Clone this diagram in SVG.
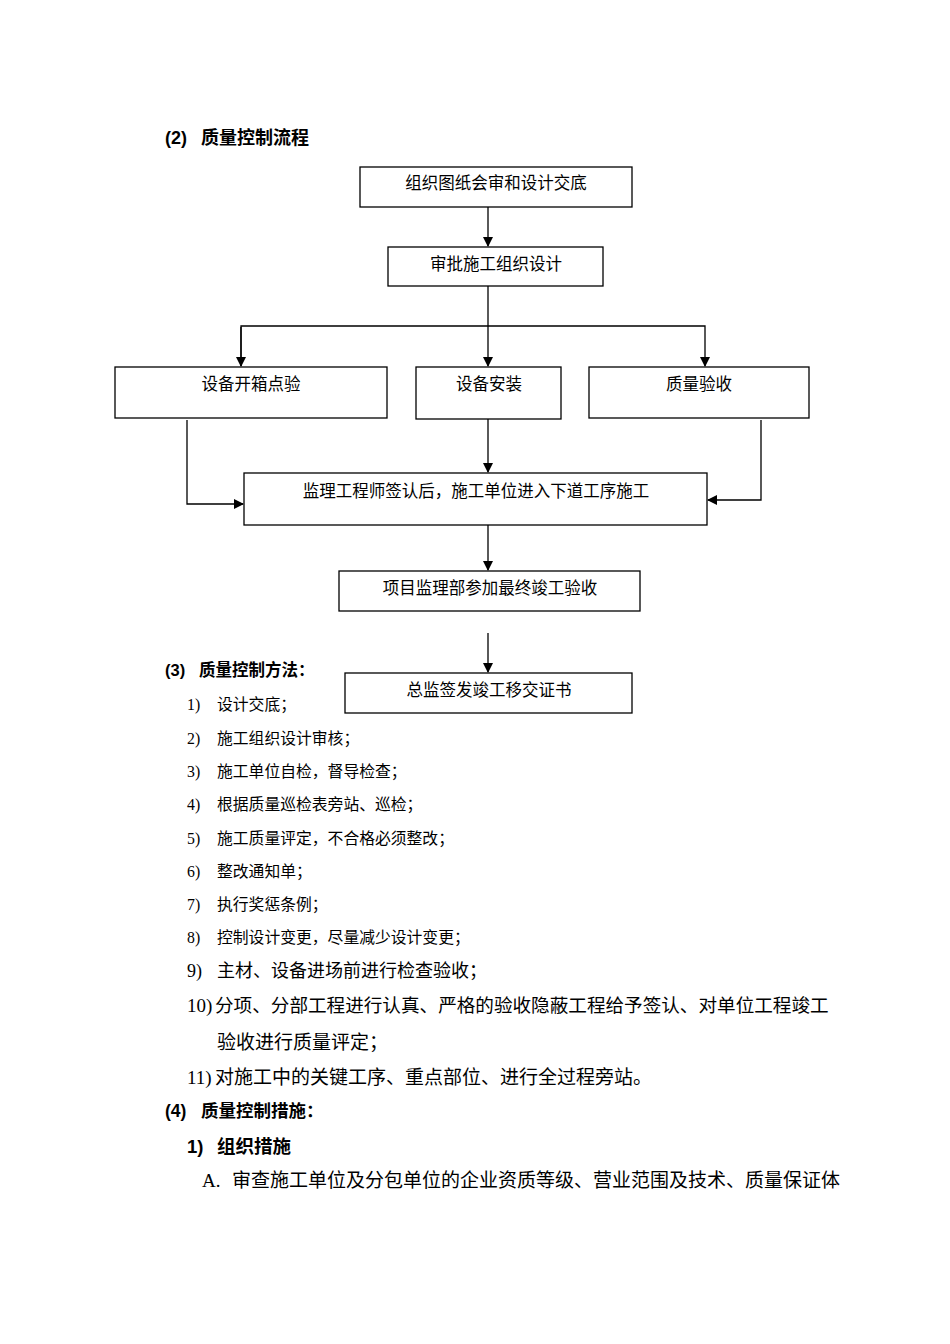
<svg xmlns="http://www.w3.org/2000/svg" width="950" height="1344" viewBox="0 0 950 1344">
<style>
.box{fill:#fff;stroke:#000;stroke-width:1.3}
.bt{font-family:"Liberation Serif","Noto Sans CJK SC",serif;font-size:16.5px;fill:#000;text-anchor:middle}
.h{font-family:"Liberation Sans","Noto Sans CJK SC",sans-serif;font-weight:bold;fill:#000}
.s{font-family:"Liberation Serif","Noto Sans CJK SC",serif;font-size:15.8px;fill:#000}
.m{font-family:"Liberation Serif","Noto Sans CJK SC",serif;font-size:19px;fill:#000}
.ln{fill:none;stroke:#000;stroke-width:1.3}
</style>
<defs>
<marker id="ah" markerWidth="10" markerHeight="10" refX="9" refY="5" orient="auto" markerUnits="userSpaceOnUse">
<path d="M0,0 L10,5 L0,10 z" fill="#000"/>
</marker>
</defs>
<rect width="950" height="1344" fill="#fff"/>
<text class="h" font-size="18" y="144"><tspan x="165">(2)</tspan><tspan x="201">质量控制流程</tspan></text>

<g id="connectors">
<line class="ln" x1="488" y1="207" x2="488" y2="246" marker-end="url(#ah)"/>
<line class="ln" x1="488" y1="286" x2="488" y2="366" marker-end="url(#ah)"/>
<polyline class="ln" points="241,366 241,326 705,326 705,366" marker-end="url(#ah)"/>
<line class="ln" x1="241" y1="327" x2="241" y2="366" marker-end="url(#ah)"/>
<polyline class="ln" points="187,420 187,504 243,504" marker-end="url(#ah)"/>
<line class="ln" x1="488" y1="419" x2="488" y2="472" marker-end="url(#ah)"/>
<polyline class="ln" points="761,420 761,500 708,500" marker-end="url(#ah)"/>
<line class="ln" x1="488" y1="525" x2="488" y2="570" marker-end="url(#ah)"/>
<line class="ln" x1="488" y1="633" x2="488" y2="672" marker-end="url(#ah)"/>
</g>

<g id="n1"><rect class="box" x="360" y="167" width="272" height="40"/><text class="bt" x="496" y="189">组织图纸会审和设计交底</text></g>
<g id="n2"><rect class="box" x="388" y="247" width="215" height="39"/><text class="bt" x="496" y="270">审批施工组织设计</text></g>
<g id="n3"><rect class="box" x="115" y="367" width="272" height="51"/><text class="bt" x="251" y="390">设备开箱点验</text></g>
<g id="n4"><rect class="box" x="416" y="367" width="145" height="52"/><text class="bt" x="489" y="390">设备安装</text></g>
<g id="n5"><rect class="box" x="589" y="367" width="220" height="51"/><text class="bt" x="699" y="390">质量验收</text></g>
<g id="n6"><rect class="box" x="244" y="473" width="463" height="52"/><text class="bt" x="476" y="497">监理工程师签认后，施工单位进入下道工序施工</text></g>
<g id="n7"><rect class="box" x="339" y="571" width="301" height="40"/><text class="bt" x="490" y="594">项目监理部参加最终竣工验收</text></g>
<g id="n8"><rect class="box" x="345" y="673" width="287" height="40"/><text class="bt" x="489" y="696">总监签发竣工移交证书</text></g>

<text class="h" font-size="16.5" y="676"><tspan x="165">(3)</tspan><tspan x="199">质量控制方法：</tspan></text>
<g class="s">
<text y="710"><tspan x="187">1)</tspan><tspan x="217">设计交底；</tspan></text>
<text y="744"><tspan x="187">2)</tspan><tspan x="217">施工组织设计审核；</tspan></text>
<text y="777"><tspan x="187">3)</tspan><tspan x="217">施工单位自检，督导检查；</tspan></text>
<text y="810"><tspan x="187">4)</tspan><tspan x="217">根据质量巡检表旁站、巡检；</tspan></text>
<text y="844"><tspan x="187">5)</tspan><tspan x="217">施工质量评定，不合格必须整改；</tspan></text>
<text y="877"><tspan x="187">6)</tspan><tspan x="217">整改通知单；</tspan></text>
<text y="910"><tspan x="187">7)</tspan><tspan x="217">执行奖惩条例；</tspan></text>
<text y="943"><tspan x="187">8)</tspan><tspan x="217">控制设计变更，尽量减少设计变更；</tspan></text>
</g>
<g class="m">
<text y="977" font-size="18"><tspan x="187">9)</tspan><tspan x="217">主材、设备进场前进行检查验收；</tspan></text>
<text y="1012"><tspan x="187">10)</tspan><tspan x="215" font-size="18.6">分项、分部工程进行认真、严格的验收隐蔽工程给予签认、对单位工程竣工</tspan></text>
<text x="217" y="1049">验收进行质量评定；</text>
<text y="1084"><tspan x="187">11)</tspan><tspan x="215">对施工中的关键工序、重点部位、进行全过程旁站。</tspan></text>
</g>
<text class="h" font-size="17.5" y="1117"><tspan x="165">(4)</tspan><tspan x="201">质量控制措施：</tspan></text>
<text class="h" font-size="18.5" y="1153"><tspan x="187">1)</tspan><tspan x="217">组织措施</tspan></text>
<text class="m" y="1187"><tspan x="202">A.</tspan><tspan x="232">审查施工单位及分包单位的企业资质等级、营业范围及技术、质量保证体</tspan></text>
</svg>
